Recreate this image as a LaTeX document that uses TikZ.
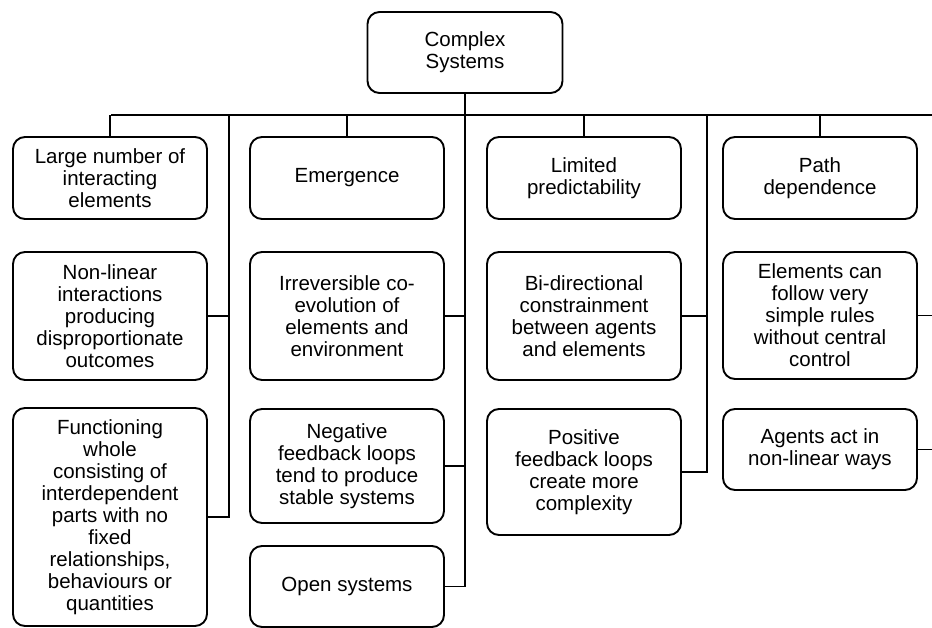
\documentclass[tikz,border=0pt]{standalone}
\usepackage{fontspec}
\setmainfont{Liberation Sans}
\begin{document}
\begin{tikzpicture}[x=1pt,y=-1pt,
  box/.style={draw=black, line width=1.9pt, rounded corners=12pt, align=center,
    inner sep=0pt, minimum width=194pt,
    font=\fontsize{20.5}{22}\selectfont},
  link/.style={draw=black, line width=1.4pt}]
\useasboundingbox (0,0) rectangle (932,628);

% root
\node[box, minimum width=195pt, minimum height=81pt] (root) at (465,52.5) {Complex\\Systems};

% column 1
\node[box, minimum height=82pt]  (large)  at (110,178) {Large number of\\interacting\\elements};
\node[box, minimum height=128pt] (nonlin) at (110,316) {Non-linear\\interactions\\producing\\disproportionate\\outcomes};
\node[box, minimum height=218pt] (func)   at (110,517) {Functioning\\whole\\consisting of\\interdependent\\parts with no\\fixed\\relationships,\\behaviours or\\quantities};

% column 2
\node[box, minimum height=82pt]  (emerg) at (347,178) {Emergence};
\node[box, minimum height=128pt] (irrev) at (347,316) {Irreversible co-\\evolution of\\elements and\\environment};
\node[box, minimum height=114pt] (neg)   at (347,466) {Negative\\feedback loops\\tend to produce\\stable systems};
\node[box, minimum height=81pt]  (open)  at (347,586.5) {Open systems};

% column 3
\node[box, minimum height=82pt]  (limit) at (584,178) {Limited\\predictability};
\node[box, minimum height=128pt] (bidir) at (584,316) {Bi-directional\\constrainment\\between agents\\and elements};
\node[box, minimum height=126pt] (posit) at (584,472) {Positive\\feedback loops\\create more\\complexity};

% column 4
\node[box, minimum height=82pt]  (path)   at (820,178) {Path\\dependence};
\node[box, minimum height=127pt] (elem)   at (820,315.5) {Elements can\\follow very\\simple rules\\without central\\control};
\node[box, minimum height=81pt]  (agents) at (820,449.5) {Agents act in\\non-linear ways};

% bus and branch points
\coordinate (busL) at (111,115);
\coordinate (busR) at (932,115);
\coordinate (c1) at (229,115);
\coordinate (c3) at (707,115);

\draw[link] (busL) -- (busR);
\draw[link] (large.north) -- (large.north |- busL);
\draw[link] (emerg.north) -- (emerg.north |- busL);
\draw[link] (limit.north) -- (limit.north |- busL);
\draw[link] (path.north) -- (path.north |- busL);

% trunk from root down to the last box of column 2
\draw[link] (root.south) |- (open.east);
\draw[link] (irrev.east) -- (root.south |- irrev.east);
\draw[link] (neg.east) -- (root.south |- neg.east);

% column 1 side rail
\draw[link] (c1) |- (func.east);
\draw[link] (nonlin.east) -- (c1 |- nonlin.east);

% column 3 side rail
\draw[link] (c3) |- (posit.east);
\draw[link] (bidir.east) -- (c3 |- bidir.east);

% column 4 side rail (continues past the right edge)
\draw[link] (elem.east) -- (busR |- elem.east);
\draw[link] (agents.east) -- (busR |- agents.east);
\end{tikzpicture}
\end{document}
